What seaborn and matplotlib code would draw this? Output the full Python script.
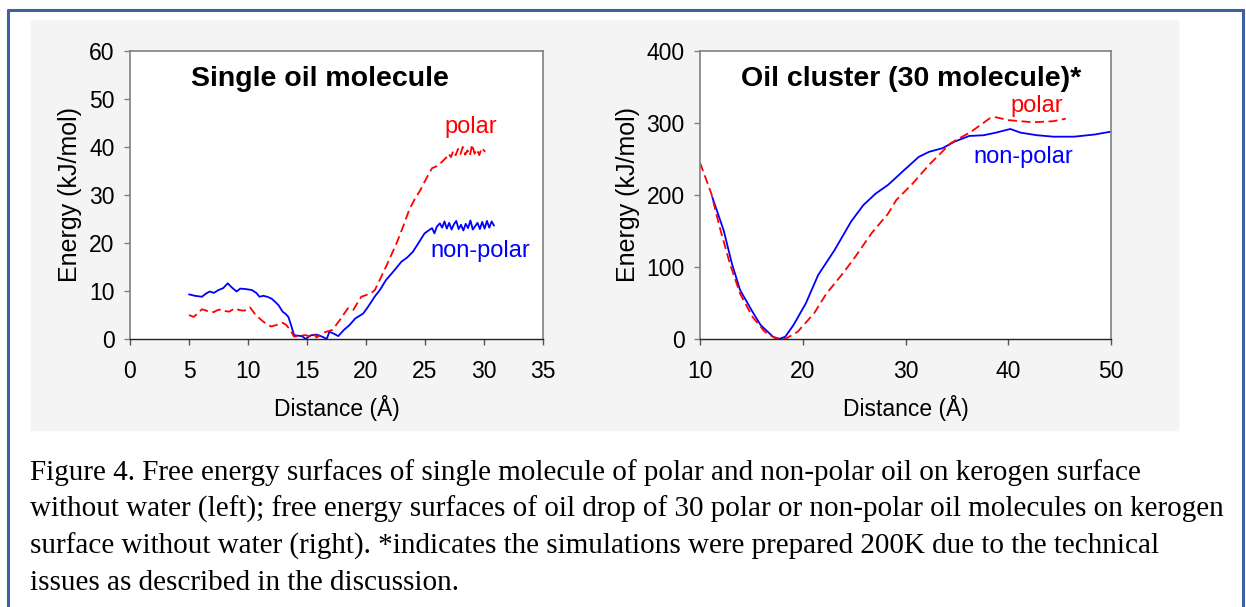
import pandas as pd
import seaborn as sns
import matplotlib.pyplot as plt
from matplotlib.patches import Rectangle
from matplotlib.lines import Line2D

# Single oil molecule - non-polar (blue) and polar (red)
single_np_x = [5.0, 5.5, 6.1, 6.4, 6.75, 7.1, 7.5, 7.9, 8.28, 8.6, 9.03, 9.35, 9.8, 10.33,
               10.7, 10.98, 11.3, 11.63, 12.0, 12.28, 12.6, 12.93, 13.2, 13.42, 13.7, 13.9,
               14.2, 14.57, 14.88, 15.1, 15.37, 15.8, 16.18, 16.45, 16.67, 16.9, 17.2, 17.65,
               18.13, 18.6, 19.1, 19.76, 20.2, 20.73, 21.2, 21.7, 22.3, 23.0, 23.5, 23.98,
               24.5, 24.96, 25.3, 25.6, 25.8, 26.0, 26.26, 26.45, 26.65, 26.85, 27.05, 27.25,
               27.45, 27.65, 27.85, 28.05, 28.25, 28.45, 28.65, 28.85, 29.05, 29.25, 29.45,
               29.65, 29.85, 30.05, 30.25, 30.45, 30.65, 30.85]
single_np_y = [9.3, 9.0, 8.8, 9.4, 9.9, 9.6, 10.2, 10.6, 11.6, 10.8, 9.9, 10.5, 10.4, 10.2,
               9.6, 8.8, 9.0, 8.8, 8.4, 7.8, 7.0, 5.7, 5.2, 4.6, 2.5, 0.8,
               0.7, 0.6, 0.0, 0.4, 0.8, 0.9, 0.6, 0.3, 0.0, 1.5, 1.2, 0.6,
               1.9, 2.9, 4.3, 5.3, 6.8, 8.8, 10.3, 12.3, 14.0, 16.1, 17.0, 18.2,
               20.2, 22.0, 22.6, 23.1, 22.0, 23.4, 24.1, 23.2, 24.5, 23.0, 24.2, 22.8,
               23.9, 24.6, 22.9, 23.8, 22.6, 24.0, 23.1, 24.7, 22.8, 23.5, 24.2,
               22.9, 24.4, 23.0, 24.6, 23.2, 24.5, 23.6]
single_p_x = [5.0, 5.4, 6.1, 6.6, 7.1, 7.4, 7.77, 8.1, 8.4, 8.9, 9.3, 9.7, 10.17, 10.65,
              11.3, 11.95, 12.4, 12.93, 13.25, 13.6, 13.9, 14.4, 14.88, 15.2, 15.55, 15.8,
              16.5, 17.16, 17.8, 18.46, 18.9, 19.6, 20.4, 20.75, 21.2, 21.7, 22.2, 22.7,
              23.2, 23.66, 24.1, 24.6, 25.1, 25.6, 26.1, 26.6, 26.8, 27.0, 27.2, 27.4,
              27.6, 27.8, 28.0, 28.2, 28.4, 28.6, 28.8, 29.0, 29.2, 29.4, 29.6, 29.8, 30.1]
single_p_y = [5.0, 4.6, 6.2, 5.8, 5.6, 6.0, 6.2, 5.8, 5.7, 6.4, 6.0, 5.9, 6.6, 5.0,
              3.6, 2.6, 2.9, 3.4, 2.9, 1.8, 0.5, 0.7, 0.8, 0.6, 1.2, 0.3,
              1.4, 1.9, 4.0, 6.4, 6.0, 8.8, 9.5, 10.2, 12.5, 15.1, 17.8, 20.6,
              23.8, 26.9, 29.0, 31.0, 33.4, 35.6, 36.1, 37.3, 37.8, 38.6, 37.9, 39.2,
              38.3, 39.6, 38.5, 40.0, 38.4, 39.3, 38.2, 40.5, 38.6, 39.5, 38.3, 39.8, 39.0]

# Oil cluster (30 molecules)
cluster_np_x = [11.2, 12.3, 13.1, 13.9, 15.1, 15.9, 17.1, 17.7, 18.3, 19.1, 20.3, 21.5,
                23.1, 24.7, 25.9, 27.1, 28.3, 29.9, 31.3, 32.3, 33.6, 34.75, 36.2, 37.6,
                38.8, 40.2, 41.2, 42.8, 44.4, 46.4, 48.4, 50.0]
cluster_np_y = [196.8, 151, 105, 68, 38, 19.4, 3.2, 0, 3.2, 19.4, 49.5, 88.9,
                123.6, 163, 186, 202, 214, 235, 253, 260, 265, 274, 282, 283,
                286.6, 291.7, 286.6, 283, 281, 281, 284, 288]
cluster_p_x = [10.0, 11.1, 11.9, 12.9, 13.9, 15.1, 16.3, 17.3, 18.3, 19.5, 21.1, 22.3,
               23.9, 25.1, 26.7, 28.3, 29.1, 30.7, 32.3, 34.4, 36.4, 38.2, 38.8, 40.0,
               42.4, 44.4, 45.6]
cluster_p_y = [245, 202, 156, 105, 63, 31, 10, 1.4, 0, 10, 35.6, 63,
               91, 114, 147, 174, 193, 216, 242, 272, 288, 306.5, 308, 304,
               301, 302.5, 306]

caption = ("Figure 4. Free energy surfaces of single molecule of polar and non-polar oil on kerogen surface\n"
           "without water (left); free energy surfaces of oil drop of 30 polar or non-polar oil molecules on kerogen\n"
           "surface without water (right). *indicates the simulations were prepared 200K due to the technical\n"
           "issues as described in the discussion.")

sns.set_style("white")
plt.rcParams['font.family'] = ['Liberation Sans', 'DejaVu Sans']
plt.rcParams['text.color'] = 'black'
plt.rcParams['axes.labelcolor'] = 'black'

W, H = 1246, 607
fig = plt.figure(figsize=(W / 100, H / 100), dpi=100)

# light grey panel behind the charts and the blue frame
fig.patches.append(Rectangle((31 / W, 1 - 430 / H), (1178 - 31) / W, 410 / H,
                             transform=fig.transFigure, color='#f4f4f4', zorder=-5))
for xs, ys in [([8 / W, 1243 / W], [1 - 10 / H, 1 - 10 / H]),
               ([8 / W, 8 / W], [0, 1 - 10 / H]),
               ([1243 / W, 1243 / W], [0, 1 - 10 / H])]:
    fig.lines.append(Line2D(xs, ys, transform=fig.transFigure, color='#40609f', lw=2.2, zorder=-5))

ax1 = fig.add_axes([130 / W, 1 - 339 / H, 413 / W, 288 / H])
ax2 = fig.add_axes([700 / W, 1 - 339 / H, 411 / W, 288 / H])


def draw(ax, np_x, np_y, p_x, p_y):
    df_np = pd.DataFrame({'Distance': np_x, 'Energy': np_y})
    df_p = pd.DataFrame({'Distance': p_x, 'Energy': p_y})
    sns.lineplot(data=df_np, x='Distance', y='Energy', ax=ax, color='#0000ff',
                 lw=1.3, sort=False, estimator=None)
    sns.lineplot(data=df_p, x='Distance', y='Energy', ax=ax, color='#ff0000',
                 lw=1.3, sort=False, estimator=None, dashes=False, linestyle=(0, (5, 2.5)))


draw(ax1, single_np_x, single_np_y, single_p_x, single_p_y)
draw(ax2, cluster_np_x, cluster_np_y, cluster_p_x, cluster_p_y)

ax1.set_xlim(0, 35)
ax1.set_ylim(0, 60)
ax1.set_xticks(range(0, 36, 5))
ax1.set_yticks(range(0, 61, 10))
ax2.set_xlim(10, 50)
ax2.set_ylim(0, 400)
ax2.set_xticks(range(10, 51, 10))
ax2.set_yticks(range(0, 401, 100))

for ax in (ax1, ax2):
    ax.set_facecolor('white')
    for s in ('left', 'top', 'right'):
        ax.spines[s].set_color('#808080')
        ax.spines[s].set_linewidth(1.2)
    ax.spines['bottom'].set_color('#222222')
    ax.spines['bottom'].set_linewidth(1.0)
    ax.tick_params(axis='x', direction='out', length=4, width=1, color='#555555',
                   pad=11, labelsize=16.5, labelcolor='black', bottom=True)
    ax.tick_params(axis='y', direction='out', length=4, width=1, color='#808080',
                   pad=7, labelsize=16.5, labelcolor='black', left=True)
    ax.set_xlabel('Distance (Å)', fontsize=16.5, labelpad=9)
    ax.set_ylabel('Energy (kJ/mol)', fontsize=18, labelpad=5)

ax1.set_title('Single oil molecule', fontsize=20.5, fontweight='bold', x=0.46, y=0.83, va='bottom')
ax2.set_title('Oil cluster (30 molecule)*', fontsize=20.5, fontweight='bold', x=0.513, y=0.83, va='bottom')

ax1.text(28.9, 44.2, 'polar', color='#ff0000', fontsize=17, ha='center', va='center')
ax1.text(29.7, 18.3, 'non-polar', color='#0000ff', fontsize=17, ha='center', va='center')
ax2.text(42.8, 323.6, 'polar', color='#ff0000', fontsize=17, ha='center', va='center')
ax2.text(41.5, 252.8, 'non-polar', color='#0000ff', fontsize=17, ha='center', va='center')

fig.text(30 / W, 1 - 459 / H, caption, family=['Liberation Serif', 'DejaVu Serif'],
         fontsize=21, va='top', ha='left', linespacing=1.47, color='black')

fig.savefig('out.png', dpi=100)
